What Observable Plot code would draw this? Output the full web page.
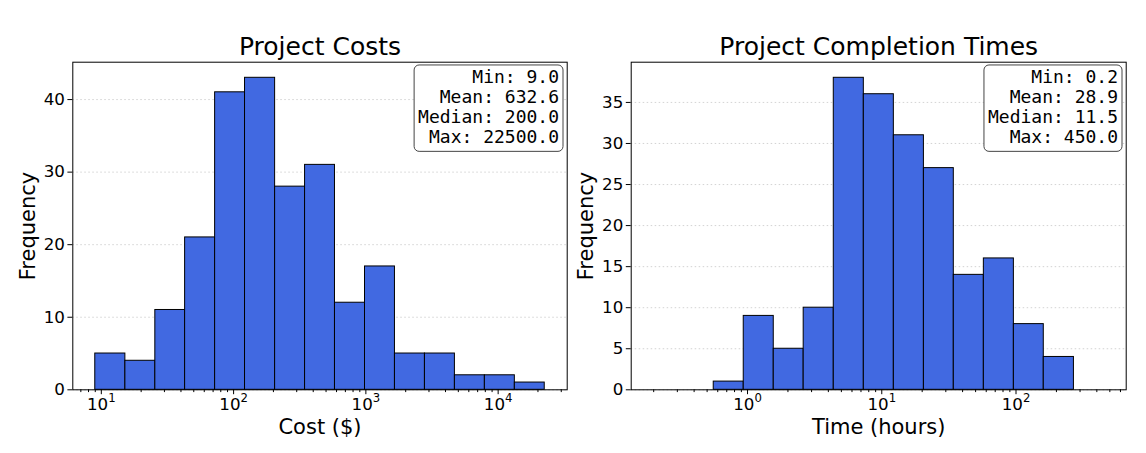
<!DOCTYPE html>
<html><head><meta charset="utf-8">
<script src="https://cdn.jsdelivr.net/npm/d3@7"></script>
<script src="https://cdn.jsdelivr.net/npm/@observablehq/plot@0.6"></script>
<style>
html,body{margin:0;padding:0;background:#fff;}
#wrap{position:relative;width:1146px;height:453px;overflow:hidden;background:#fff;}
.panel{position:absolute;top:0;}
</style></head><body>
<div id="wrap"><div id="p1" class="panel" style="left:0"></div><div id="p2" class="panel" style="left:573px"></div></div>
<script>
// ---- Project Costs ----
const costEdges = [9, 15.2, 25.6, 43.0, 72.5, 122, 206, 347, 584, 985, 1659, 2796, 4711, 7937, 13373, 22500];
const costCounts = [5, 4, 11, 21, 41, 43, 28, 31, 12, 17, 5, 5, 2, 2, 1];
const costStats = ["Min: 9.0", "Mean: 632.6", "Median: 200.0", "Max: 22500.0"];
const costYTicks = [0, 10, 20, 30, 40];
const costXTicks = [10, 100, 1000, 10000];
const costXTickLabels = ["10¹", "10²", "10³", "10⁴"];

// ---- Project Completion Times ----
const timeEdges = [0.2, 0.335, 0.56, 0.937, 1.568, 2.62, 4.39, 7.35, 12.3, 20.6, 34.4, 57.6, 96.4, 161, 270, 450];
const timeCounts = [0, 0, 1, 9, 5, 10, 38, 36, 31, 27, 14, 16, 8, 4, 0];
const timeStats = ["Min: 0.2", "Mean: 28.9", "Median: 11.5", "Max: 450.0"];
const timeYTicks = [0, 5, 10, 15, 20, 25, 30, 35];
const timeXTicks = [1, 10, 100];
const timeXTickLabels = ["10⁰", "10¹", "10²"];

function panel({edges, counts, yTicks, xTicks, xTickLabels, stats, title, xLabel, marginLeft, marginRight}) {
  const bins = counts.map((c, i) => ({x1: edges[i], x2: edges[i + 1], count: c}));
  const lo = Math.log10(edges[0]), hi = Math.log10(edges[edges.length - 1]);
  const pad = (hi - lo) * 0.05;
  const domain = [10 ** (lo - pad), 10 ** (hi + pad)];
  const ymax = d3.max(counts) * 1.05;
  const minor = [];
  for (let n = Math.floor(lo - pad); n <= Math.ceil(hi + pad); n++)
    for (let k = 2; k <= 9; k++) { const v = k * 10 ** n; if (v >= domain[0] && v <= domain[1]) minor.push(v); }
  return Plot.plot({
    width: 573, height: 453,
    marginTop: 61.7, marginBottom: 63.7, marginLeft, marginRight,
    style: {fontFamily: "DejaVu Sans", fontSize: "16.7px", color: "black", background: "white", overflow: "visible"},
    x: {type: "log", domain},
    y: {domain: [0, ymax]},
    marks: [
      Plot.gridY(yTicks, {stroke: "#c8c8c8", strokeOpacity: 1, strokeDasharray: "1.5,2.5", strokeWidth: 0.8}),
      Plot.rectY(bins, {x1: "x1", x2: "x2", y: "count", fill: "#4169E1", stroke: "black", strokeWidth: 1}),
      Plot.axisY({ticks: yTicks, tickSize: 4.9, tickPadding: 3, label: null}),
      Plot.axisX({ticks: minor, tickSize: 2.8, tickFormat: () => "", label: null}),
      Plot.axisX({ticks: xTicks, tickSize: 4.9, tickPadding: 3.5, tickFormat: d => xTickLabels[xTicks.indexOf(d)], label: null}),
      Plot.frame({stroke: "black", strokeWidth: 1}),
      Plot.text([title], {frameAnchor: "top", dy: -7.4, lineAnchor: "bottom", textAnchor: "middle", fontSize: 25, text: d => d}),
      Plot.text([xLabel], {frameAnchor: "bottom", dy: 43.7, lineAnchor: "bottom", textAnchor: "middle", fontSize: 21, text: d => d}),
      Plot.text(["Frequency"], {frameAnchor: "left", dx: -38, rotate: -90, lineAnchor: "bottom", textAnchor: "middle", fontSize: 21, text: d => d}),
      Plot.text([stats.join("\n")], {frameAnchor: "top-right", dx: -8.2, dy: 7.2, lineAnchor: "top", textAnchor: "end", fontFamily: "DejaVu Sans Mono", fontSize: 18, lineHeight: 1.1, text: d => d})
    ]
  });
}

function addBox(el) {
  const t = d3.select(el).selectAll("text").filter(function () { return this.textContent.startsWith("Min:"); }).node();
  if (!t) return;
  const b = t.getBBox();
  const r = document.createElementNS("http://www.w3.org/2000/svg", "rect");
  r.setAttribute("x", b.x - 4);
  r.setAttribute("y", b.y - 1.5);
  r.setAttribute("width", b.width + 8);
  r.setAttribute("height", b.height + 6);
  r.setAttribute("rx", 5);
  r.setAttribute("fill", "white");
  r.setAttribute("stroke", "#444");
  r.setAttribute("stroke-width", 1);
  const tr = t.getAttribute("transform");
  if (tr) r.setAttribute("transform", tr);
  t.parentNode.insertBefore(r, t);
}

// Render "10¹"-style tick labels as a base with a real superscript tspan (like mathtext)
const supMap = {"⁰": "0", "¹": "1", "²": "2", "³": "3", "⁴": "4", "⁵": "5", "⁶": "6", "⁷": "7", "⁸": "8", "⁹": "9", "⁻": "−"};
function superscripts(el) {
  d3.select(el).selectAll("text").each(function () {
    if (this.querySelector("tspan")) return;
    const s = this.textContent;
    const m = s.match(/^(10)([⁰¹²³⁴⁵⁶⁷⁸⁹⁻]+)$/);
    if (!m) return;
    const exp = [...m[2]].map(c => supMap[c]).join("");
    this.textContent = m[1];
    const ts = document.createElementNS("http://www.w3.org/2000/svg", "tspan");
    ts.setAttribute("dy", "-7.7");
    ts.setAttribute("font-size", "11.7");
    ts.textContent = exp;
    this.appendChild(ts);
  });
}

const p1 = panel({edges: costEdges, counts: costCounts, yTicks: costYTicks, xTicks: costXTicks, xTickLabels: costXTickLabels,
  stats: costStats, title: "Project Costs", xLabel: "Cost ($)", marginLeft: 72.3, marginRight: 6.3});
const p2 = panel({edges: timeEdges, counts: timeCounts, yTicks: timeYTicks, xTicks: timeXTicks, xTickLabels: timeXTickLabels,
  stats: timeStats, title: "Project Completion Times", xLabel: "Time (hours)", marginLeft: 57.7, marginRight: 20.3});
document.getElementById("p1").appendChild(p1);
document.getElementById("p2").appendChild(p2);
superscripts(p1);
superscripts(p2);
addBox(p1);
addBox(p2);
</script>
</body></html>
